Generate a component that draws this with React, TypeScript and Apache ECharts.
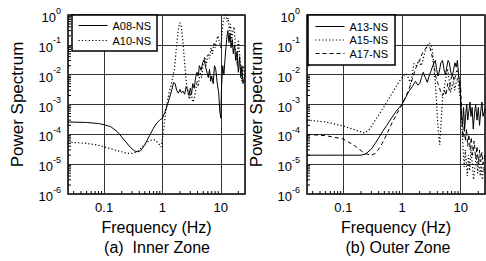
import React, { useEffect, useRef } from "react";
import * as echarts from "echarts";

const FONT = '"Liberation Sans", Arial, sans-serif';

// ---- Data: (a) Inner Zone ----
const a08Freq = [0.024, 0.05, 0.08, 0.1, 0.13, 0.17, 0.22, 0.28, 0.33, 0.37, 0.42, 0.5, 0.6, 0.7, 0.8, 0.9, 1.0, 1.1, 1.2, 1.3, 1.45, 1.55, 1.65, 1.75, 1.87, 2.0, 2.1, 2.25, 2.4, 2.55, 2.7, 2.85, 3.0, 3.15, 3.3, 3.5, 3.7, 3.9, 4.1, 4.3, 4.6, 4.9, 5.2, 5.5, 5.8, 6.1, 6.4, 6.7, 7.0, 7.4, 7.8, 8.2, 8.7, 9.2, 9.6, 10.0, 10.3, 10.8, 11.3, 12.0, 12.6, 13.2, 13.8, 14.4, 15.0, 15.7, 16.4, 17.2, 18.0, 19.0, 20.0, 21, 22, 23, 24, 26];
const a08Power = [2.6e-4, 2.5e-4, 2.3e-4, 2.1e-4, 1.8e-4, 1.2e-4, 6.5e-5, 3.7e-5, 2.8e-5, 2.6e-5, 2.8e-5, 4.5e-5, 9e-5, 1.6e-4, 2.4e-4, 3e-4, 3.5e-4, 5.5e-4, 9e-4, 1.5e-3, 3.2e-3, 5.5e-3, 5e-3, 3e-3, 2.4e-3, 3.2e-3, 2.5e-3, 2.8e-3, 2.2e-3, 4e-3, 3e-3, 2e-3, 3.5e-3, 2.2e-3, 5e-3, 3.5e-3, 8e-3, 1.2e-2, 9e-3, 2e-2, 1.4e-2, 2.5e-2, 3.2e-2, 1.8e-2, 1.2e-2, 8e-3, 1.5e-2, 6e-3, 9e-3, 5e-3, 2e-2, 1.5e-2, 5e-3, 2.5e-3, 6e-4, 3.5e-4, 4e-3, 2e-2, 1e-2, 5e-2, 0.15, 0.3, 0.12, 0.25, 0.08, 0.15, 0.05, 0.1, 0.03, 0.06, 0.012, 0.04, 0.008, 0.02, 0.005, 0.01];

const a10Freq = [0.024, 0.05, 0.08, 0.1, 0.15, 0.2, 0.25, 0.3, 0.37, 0.45, 0.55, 0.65, 0.75, 0.85, 0.95, 1.05, 1.15, 1.3, 1.45, 1.6, 1.75, 1.9, 2.0, 2.1, 2.25, 2.4, 2.55, 2.7, 2.9, 3.1, 3.3, 3.5, 3.7, 3.9, 4.1, 4.4, 4.7, 5.0, 5.3, 5.6, 6.0, 6.4, 6.8, 7.2, 7.6, 8.0, 8.5, 9.0, 9.5, 10.0, 10.5, 11.0, 11.6, 12.2, 12.8, 13.4, 14.0, 14.7, 15.4, 16.2, 17.0, 18.0, 19.0, 20.0, 21, 22, 23, 24, 26];
const a10Power = [5.5e-5, 5e-5, 4.3e-5, 3.8e-5, 3e-5, 2.6e-5, 2.3e-5, 2.3e-5, 2.6e-5, 3.8e-5, 5.5e-5, 6.5e-5, 6.5e-5, 5e-5, 3.8e-5, 1.5e-4, 7e-4, 2.5e-3, 6e-3, 1.5e-2, 0.1, 0.4, 0.55, 0.4, 0.12, 0.025, 6e-3, 3e-3, 1.5e-3, 2.5e-3, 1.2e-3, 1.5e-3, 3e-3, 6e-3, 4e-3, 1.2e-2, 8e-3, 2.5e-2, 4e-2, 2e-2, 5e-2, 3.5e-2, 8e-2, 5e-2, 0.12, 0.08, 0.15, 0.2, 0.12, 0.08, 0.25, 0.6, 0.9, 1.0, 0.6, 0.8, 0.3, 0.5, 0.15, 0.3, 0.4, 0.05, 0.02, 0.15, 0.05, 0.015, 0.006, 0.02, 0.01];

// ---- Data: (b) Outer Zone ----
const a13Freq = [0.024, 0.05, 0.1, 0.15, 0.2, 0.24, 0.3, 0.35, 0.4, 0.46, 0.55, 0.68, 0.8, 0.9, 1.0, 1.15, 1.3, 1.5, 1.7, 1.85, 2.0, 2.15, 2.3, 2.5, 2.7, 2.9, 3.1, 3.3, 3.5, 3.7, 3.9, 4.1, 4.3, 4.6, 4.9, 5.2, 5.5, 5.8, 6.1, 6.4, 6.8, 7.2, 7.6, 8.0, 8.4, 8.8, 9.2, 9.6, 10.0, 10.4, 10.8, 11.2, 11.7, 12.2, 12.7, 13.2, 13.8, 14.4, 15.0, 15.7, 16.4, 17.2, 18.0, 19.0, 20.0, 21, 22, 23, 24, 26];
const a13Power = [2e-5, 2e-5, 2e-5, 2e-5, 2e-5, 2.2e-5, 3.2e-5, 5e-5, 7.5e-5, 1.2e-4, 2e-4, 3.8e-4, 6e-4, 8e-4, 1e-3, 1.7e-3, 2.7e-3, 4e-3, 6e-3, 4.5e-3, 5e-3, 8e-3, 1.2e-2, 8e-3, 5.5e-3, 9e-3, 1.3e-2, 1.8e-2, 2.5e-2, 3e-2, 1.5e-2, 9e-3, 1.2e-2, 2.5e-2, 3e-2, 1.5e-2, 1e-2, 1.8e-2, 3e-2, 2.5e-2, 1.2e-2, 9e-3, 1.5e-2, 2.5e-2, 1.8e-2, 3e-2, 1e-2, 5e-3, 1.5e-3, 4e-4, 2e-4, 8e-4, 1.5e-4, 5e-4, 1e-3, 3e-4, 6e-4, 1.2e-3, 4e-4, 8e-4, 1.5e-4, 5e-4, 1e-3, 3e-4, 8e-4, 2e-4, 6e-4, 1.2e-3, 4e-4, 7e-4];

const a15Freq = [0.024, 0.05, 0.1, 0.16, 0.23, 0.28, 0.35, 0.43, 0.52, 0.62, 0.73, 0.85, 0.95, 1.05, 1.15, 1.28, 1.4, 1.5, 1.6, 1.75, 1.95, 2.1, 2.2, 2.35, 2.5, 2.7, 2.9, 3.1, 3.3, 3.5, 3.7, 3.85, 4.0, 4.2, 4.4, 4.6, 4.9, 5.3, 5.7, 6.0, 6.4, 6.7, 7.1, 7.5, 7.9, 8.3, 8.9, 9.4, 10.0, 10.5, 11.0, 11.5, 12.0, 12.5, 13.0, 13.6, 14.2, 15.0, 15.8, 16.6, 17.5, 18.5, 19.5, 20.5, 21.5, 22.5, 23.5, 24.5, 26];
const a15Power = [3e-4, 2.6e-4, 1.9e-4, 1.4e-4, 1.1e-4, 1.5e-4, 3e-4, 5.5e-4, 1e-3, 1.8e-3, 3e-3, 5e-3, 7e-3, 9e-3, 1.1e-2, 8e-3, 5e-3, 1e-2, 2.4e-2, 2e-2, 3e-2, 2e-2, 2.4e-2, 4e-2, 6.5e-2, 9e-2, 0.12, 0.1, 6.5e-2, 2e-2, 5e-3, 1.5e-3, 4e-4, 1e-4, 4.5e-5, 2e-4, 1.5e-3, 4e-3, 1e-2, 1.6e-2, 6e-3, 2.5e-3, 4e-3, 6e-3, 3e-3, 5e-3, 8e-3, 3e-3, 1.4e-3, 2e-4, 3e-5, 8e-6, 3e-5, 1e-5, 4e-6, 2e-5, 6e-6, 3e-5, 1e-5, 3e-6, 8e-6, 2e-5, 5e-6, 1.5e-5, 4e-6, 1e-5, 3e-6, 8e-6, 5e-6];

const a17Freq = [0.024, 0.05, 0.1, 0.16, 0.23, 0.3, 0.35, 0.4, 0.46, 0.55, 0.68, 0.8, 1.0, 1.15, 1.3, 1.5, 1.7, 1.85, 2.0, 2.2, 2.45, 2.7, 3.0, 3.2, 3.5, 3.8, 4.1, 4.3, 4.6, 4.9, 5.3, 5.6, 6.0, 6.4, 6.8, 7.3, 7.8, 8.3, 8.8, 9.3, 10.0, 10.5, 11.0, 11.5, 12.0, 12.6, 13.2, 13.8, 14.5, 15.2, 16.0, 17.0, 18.0, 19.0, 20.0, 21, 22, 23, 24, 26];
const a17Power = [1e-4, 9e-5, 7e-5, 4e-5, 2.3e-5, 2e-5, 2.3e-5, 3.2e-5, 5e-5, 1e-4, 2.5e-4, 4.5e-4, 1e-3, 1.8e-3, 3e-3, 7e-3, 1.6e-2, 2.2e-2, 3e-2, 5e-2, 7e-2, 9e-2, 8e-2, 5e-2, 2e-2, 8e-3, 5e-3, 4e-3, 2.5e-3, 2e-3, 3e-3, 2e-3, 5e-3, 3e-3, 7e-3, 1e-2, 6e-3, 1.2e-2, 1.4e-2, 8e-3, 4e-3, 3e-4, 8e-5, 2e-4, 6e-5, 1.5e-4, 4e-5, 1e-4, 3e-5, 8e-5, 2e-5, 6e-5, 1.5e-5, 4e-5, 1e-5, 3e-5, 1.2e-5, 2.5e-5, 1e-5, 2e-5];

// ---- Axes / labels ----
const xTickLabels: Record<string, string> = { "-1": "0.1", "0": "1", "1": "10" };
const yExponents = [0, -1, -2, -3, -4, -5, -6];
const xMin = 0.024;
const xMax = 26;
const yMin = 1e-6;
const yMax = 1;
const panelNames = ["(a)  Inner Zone", "(b) Outer Zone"];
const legendA = ["A08-NS", "A10-NS"];
const legendB = ["A13-NS", "A15-NS", "A17-NS"];

const minorDecadesX = [0.01, 0.1, 1, 10];
const minorDecadesY = [1e-6, 1e-5, 1e-4, 1e-3, 1e-2, 1e-1];
const minorMult = [2, 3, 4, 5, 6, 7, 8, 9];

const DOTTED = [1.2, 2.2];
const DASHED = [4, 3];

const pairs = (f: number[], p: number[]) => f.map((v, i) => [v, p[i]]);

export default function App() {
  const ref = useRef<HTMLDivElement>(null);
  useEffect(() => {
    if (!ref.current) return;
    const chart = echarts.init(ref.current, undefined, { renderer: "svg" });

    const xMinor: number[] = [];
    minorDecadesX.forEach((d) => minorMult.forEach((m) => {
      const v = d * m;
      if (v > xMin && v < xMax) xMinor.push(v);
    }));
    const yMinor: number[] = [];
    minorDecadesY.forEach((d) => minorMult.forEach((m) => yMinor.push(d * m)));

    const grids = [
      { left: 68, top: 15, width: 177, height: 179 },
      { left: 307, top: 15, width: 178, height: 179 },
    ];

    const xAxis = [0, 1].map((i) => ({
      type: "log",
      gridIndex: i,
      min: xMin,
      max: xMax,
      logBase: 10,
      name: "Frequency (Hz)",
      nameLocation: "middle",
      nameGap: 25,
      nameTextStyle: { fontFamily: FONT, fontSize: 16, color: "#000" },
      axisLine: { show: false },
      axisTick: { show: false },
      axisLabel: {
        margin: 7,
        showMinLabel: false,
        showMaxLabel: false,
        fontFamily: FONT,
        fontSize: 13,
        color: "#000",
        formatter: (v: number) => xTickLabels[String(Math.round(Math.log10(v)))] ?? "",
      },
      splitLine: { show: true, lineStyle: { color: "#333", width: 1 } },
    }));

    const yAxis = [0, 1].map((i) => ({
      type: "log",
      gridIndex: i,
      min: yMin,
      max: yMax,
      logBase: 10,
      name: "Power Spectrum",
      nameLocation: "middle",
      nameGap: 42,
      nameTextStyle: { fontFamily: FONT, fontSize: 17, color: "#000" },
      axisLine: { show: false },
      axisTick: { show: false },
      axisLabel: {
        margin: 7,
        fontFamily: FONT,
        color: "#000",
        formatter: (v: number) => {
          const e = Math.round(Math.log10(v));
          return yExponents.includes(e) ? `{b|10}{s|${e}}` : "";
        },
        rich: {
          b: { fontFamily: FONT, fontSize: 13, color: "#000", verticalAlign: "bottom" },
          s: { fontFamily: FONT, fontSize: 9, color: "#000", verticalAlign: "top", padding: [0, 0, 9, 0] },
        },
      },
      splitLine: { show: true, lineStyle: { color: "#333", width: 1 } },
    }));

    const lineSeries = (name: string, data: number[][], idx: number, type: any, width: number) => ({
      name,
      type: "line",
      xAxisIndex: idx,
      yAxisIndex: idx,
      data,
      symbol: "none",
      smooth: false,
      lineStyle: { color: "#000", width, type },
      itemStyle: { color: "#000" },
      z: 3,
    });

    const minorX = (idx: number) => ({
      type: "custom",
      xAxisIndex: idx,
      yAxisIndex: idx,
      silent: true,
      clip: false,
      z: 4,
      data: xMinor.map((v) => [v, yMin]),
      renderItem: (_p: any, api: any) => {
        const pt = api.coord([api.value(0), yMin]);
        return {
          type: "line",
          shape: { x1: pt[0], y1: pt[1], x2: pt[0], y2: pt[1] - 3 },
          style: { stroke: "#000", lineWidth: 1 },
        };
      },
    });
    const minorY = (idx: number) => ({
      type: "custom",
      xAxisIndex: idx,
      yAxisIndex: idx,
      silent: true,
      clip: false,
      z: 4,
      data: yMinor.map((v) => [xMin, v]),
      renderItem: (_p: any, api: any) => {
        const pt = api.coord([xMin, api.value(1)]);
        return {
          type: "line",
          shape: { x1: pt[0], y1: pt[1], x2: pt[0] + 3, y2: pt[1] },
          style: { stroke: "#000", lineWidth: 1 },
        };
      },
    });

    const legendCommon = {
      orient: "vertical",
      top: 15,
      borderColor: "#000",
      borderWidth: 1.5,
      backgroundColor: "#fff",
      borderRadius: 0,
      itemWidth: 29,
      itemHeight: 12,
      itemStyle: { opacity: 0 },
      lineStyle: { width: 1 },
      textStyle: { fontFamily: FONT, fontSize: 11, color: "#000" },
      z: 10,
    };

    chart.setOption({
      animation: false,
      grid: grids.map((g) => ({ ...g, show: true, borderColor: "#000", borderWidth: 1.5, backgroundColor: "transparent" })),
      xAxis,
      yAxis,
      legend: [
        { ...legendCommon, left: 72, data: legendA, padding: [5, 6, 5, 6], itemGap: 4 },
        { ...legendCommon, left: 308, data: legendB, padding: [6, 7, 6, 7], itemGap: 2.5 },
      ],
      series: [
        lineSeries("A08-NS", pairs(a08Freq, a08Power), 0, "solid", 1),
        lineSeries("A10-NS", pairs(a10Freq, a10Power), 0, DOTTED, 1.2),
        lineSeries("A13-NS", pairs(a13Freq, a13Power), 1, "solid", 1),
        lineSeries("A15-NS", pairs(a15Freq, a15Power), 1, DOTTED, 1.2),
        lineSeries("A17-NS", pairs(a17Freq, a17Power), 1, DASHED, 1),
        minorX(0),
        minorX(1),
        minorY(0),
        minorY(1),
      ],
      graphic: [
        { type: "text", x: 157, y: 247, style: { text: panelNames[0], font: `16px ${FONT}`, fill: "#000", align: "center", verticalAlign: "middle" } },
        { type: "text", x: 398, y: 247, style: { text: panelNames[1], font: `16px ${FONT}`, fill: "#000", align: "center", verticalAlign: "middle" } },
      ],
    });
    return () => chart.dispose();
  }, []);
  return <div ref={ref} style={{ position: "absolute", left: 0, top: 0, width: 486, height: 261 }} />;
}
